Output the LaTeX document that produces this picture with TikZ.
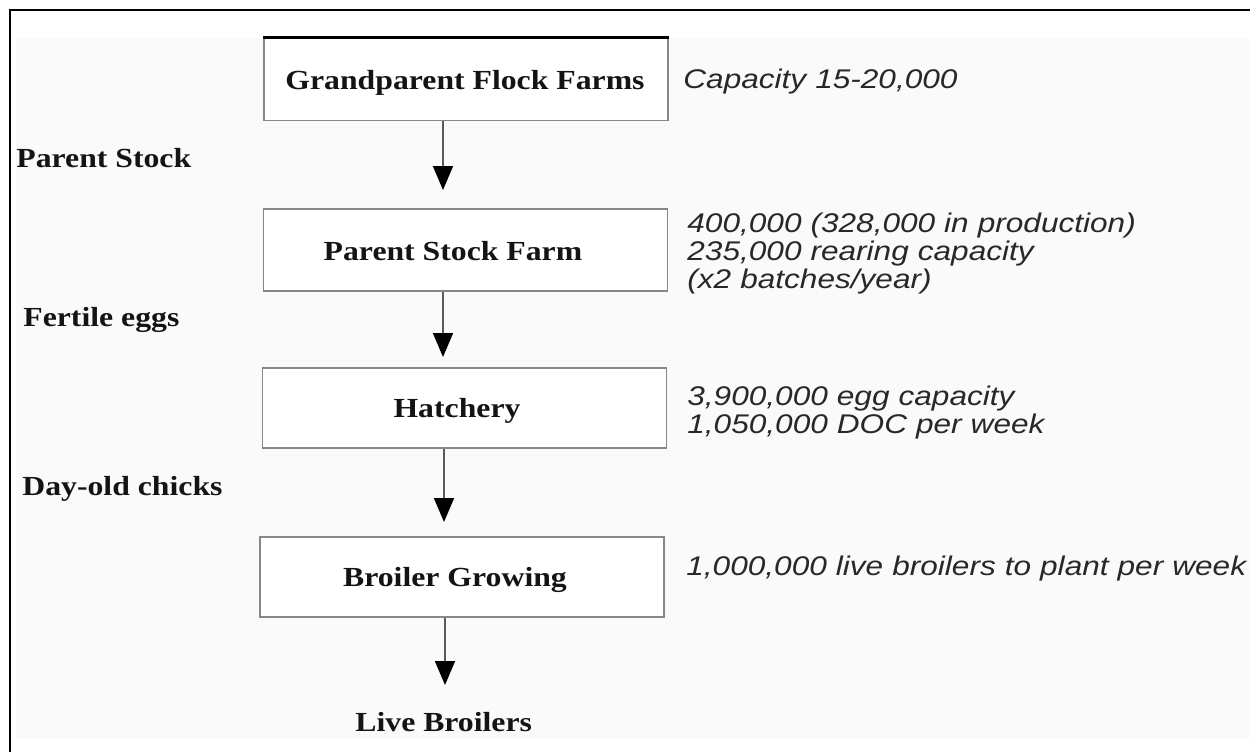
\documentclass[tikz,border=0pt]{standalone}
\usepackage{fontspec}
\setmainfont{Liberation Serif}
\newfontfamily\stagefont{Liberation Serif}[FakeStretch=1.15]
\newfontfamily\notefont{Liberation Sans}[FakeStretch=1.17]
\usetikzlibrary{arrows.meta}

\definecolor{panelgray}{RGB}{250,250,250}
\definecolor{boxedge}{RGB}{135,135,135}
\definecolor{shaftgray}{RGB}{90,90,90}
\definecolor{notegray}{RGB}{40,40,40}
\definecolor{inkblack}{RGB}{20,20,20}

\tikzset{
  stagebox/.style={draw=boxedge, fill=white, line width=0.9pt, inner sep=0pt,
                   minimum width=202pt, minimum height=41pt},
  stagetext/.style={inner sep=0pt, anchor=base, text=inkblack,
                    font=\stagefont\bfseries\fontsize{13.8}{16}\selectfont},
  flowlabel/.style={inner sep=0pt, anchor=base west, text=inkblack,
                    font=\stagefont\bfseries\fontsize{13.8}{16}\selectfont},
  note/.style={inner sep=0pt, anchor=base west, text=notegray, align=left,
               text width=300pt,
               font=\notefont\itshape\fontsize{13.5}{14}\selectfont},
  flow/.style={draw=shaftgray, line width=0.8pt,
               -{Triangle[width=10pt,length=12pt,color=black]}}
}

\begin{document}
\begin{tikzpicture}[x=0.5pt,y=-0.5pt]
  \useasboundingbox (0,0) rectangle (1250,752);
  % page, panel and frame
  \fill[white] (0,0) rectangle (1250,752);
  \fill[panelgray] (16,38) rectangle (1250,739);
  \draw[black, line width=1pt] (10,752) -- (10,10) -- (1250,10);

  % production stages
  \node[stagebox] (b1) at (466,79.5) {};
  \draw[black, line width=1.6pt] (b1.north west) -- (b1.north east);
  \node[stagebox] (b2) at (465.5,250) {};
  \node[stagebox, minimum height=40pt] (b3) at (464.5,408) {};
  \node[stagebox, minimum height=40pt] (b4) at (462,577) {};

  \node[stagetext] (b1t) at (465,89)  {Grandparent Flock Farms};
  \node[stagetext] (b2t) at (453,260) {Parent Stock Farm};
  \node[stagetext] (b3t) at (457,417) {Hatchery};
  \node[stagetext] (b4t) at (455,586) {Broiler Growing};

  % flows between stages
  \coordinate (t1) at (443,190);
  \coordinate (t2) at (443,357);
  \coordinate (t3) at (444,522);
  \coordinate (t4) at (445,685);
  \draw[flow] (b1.south -| t1) -- (t1);
  \draw[flow] (b2.south -| t2) -- (t2);
  \draw[flow] (b3.south -| t3) -- (t3);
  \draw[flow] (b4.south -| t4) -- (t4);

  % what moves between stages
  \node[flowlabel] (f1) at (16,167)  {Parent Stock};
  \node[flowlabel] (f2) at (23,326)  {Fertile eggs};
  \node[flowlabel] (f3) at (22,495)  {Day-old chicks};
  \node[flowlabel] (f4) at (355,731) {Live Broilers};

  % capacities
  \node[note] (n1) at (683,88)  {Capacity 15-20,000};
  \node[note] (n2) at (687,232) {400,000 (328,000 in production)\\235,000 rearing capacity\\(x2 batches/year)};
  \node[note] (n3) at (687,405) {3,900,000 egg capacity\\1,050,000 DOC per week};
  \node[note] (n4) at (686,575) {1,000,000 live broilers to plant per week};
\end{tikzpicture}
\end{document}
